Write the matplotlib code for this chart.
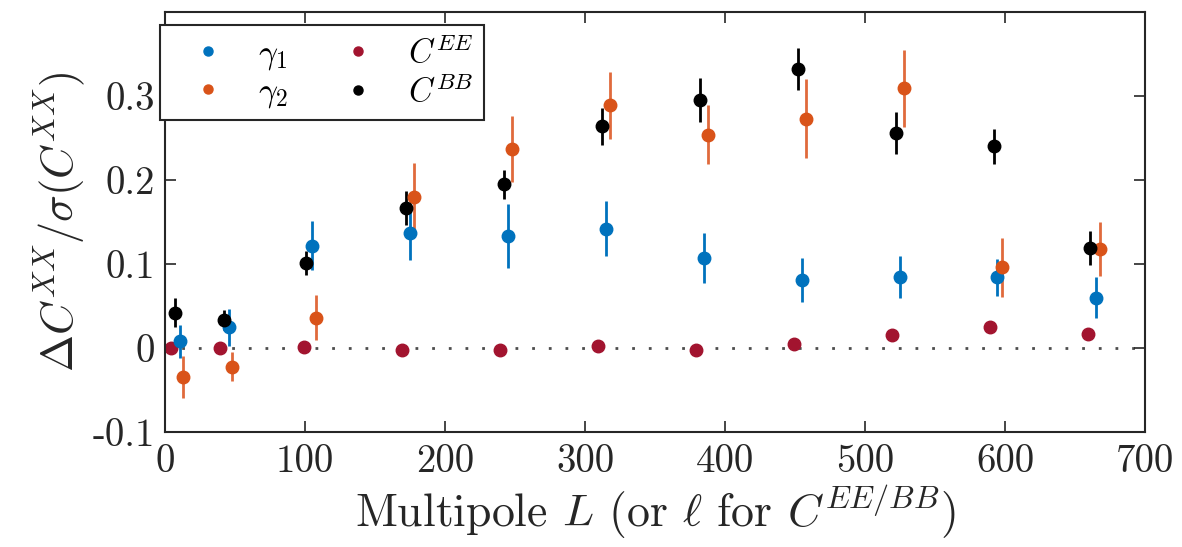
import matplotlib
matplotlib.use("Agg")
import matplotlib.pyplot as plt
from matplotlib.lines import Line2D
import numpy as np

plt.rcParams['font.family'] = ['cmr10', 'DejaVu Serif']
plt.rcParams['mathtext.fontset'] = 'cm'
plt.rcParams['axes.unicode_minus'] = False

# multipole positions (slightly offset per series)
L_ee = [4, 39, 99, 169, 239, 309, 379, 449, 519, 589, 659]
L_bb = [7, 42, 101, 172, 242, 312, 382, 452, 522, 592, 661]
L_g1 = [11, 46, 105, 175, 245, 315, 385, 455, 525, 594, 665]
L_g2 = [13, 48, 108, 178, 248, 318, 388, 458, 528, 598, 668]

# values and 1-sigma errors
g1 = [0.008, 0.025, 0.122, 0.137, 0.133, 0.142, 0.107, 0.081, 0.085, 0.084, 0.060]
g1_err = [0.02, 0.022, 0.029, 0.032, 0.038, 0.033, 0.030, 0.026, 0.025, 0.022, 0.024]
g2 = [-0.035, -0.022, 0.036, 0.180, 0.237, 0.289, 0.254, 0.273, 0.309, 0.096, 0.118]
g2_err = [0.025, 0.017, 0.027, 0.040, 0.039, 0.040, 0.035, 0.047, 0.046, 0.035, 0.032]
cee = [0.0, 0.0, 0.001, -0.002, -0.002, 0.002, -0.002, 0.005, 0.015, 0.025, 0.017]
cbb = [0.042, 0.033, 0.101, 0.167, 0.195, 0.264, 0.295, 0.332, 0.256, 0.240, 0.119]
cbb_err = [0.017, 0.012, 0.014, 0.020, 0.017, 0.022, 0.026, 0.025, 0.025, 0.021, 0.020]

legend_labels = [r'$\gamma_1$', r'$\gamma_2$', r'$C^{EE}$', r'$C^{BB}$']

blue = '#0072BD'
orange = '#D95319'
red = '#A2142F'


def main():
    fig = plt.figure(figsize=(11.82, 5.47), dpi=100)
    ax = fig.add_axes([0.1396, 0.2102, 0.8291, 0.7678])

    ax.axhline(0, color='0.3', linestyle=(0, (1, 5)), linewidth=2.0, zorder=0)

    ms = 9
    ax.errorbar(L_g1, g1, yerr=g1_err, fmt='o', color=blue, ms=ms, elinewidth=2,
                capsize=0)
    ax.errorbar(L_g2, g2, yerr=g2_err, fmt='o', color=orange, ms=ms, elinewidth=2,
                capsize=0, ecolor='#E06A3C')
    ax.plot(L_ee, cee, 'o', color=red, ms=ms)
    ax.errorbar(L_bb, cbb, yerr=cbb_err, fmt='o', color='black', ms=ms, elinewidth=2,
                capsize=0)

    ax.set_xlim(0, 700)
    ax.set_ylim(-0.1, 0.4)
    ax.set_xticks([0, 100, 200, 300, 400, 500, 600, 700])
    ax.set_xticklabels(['0', '100', '200', '300', '400', '500', '600', '700'])
    ax.set_yticks([-0.1, 0, 0.1, 0.2, 0.3])
    ax.set_yticklabels(['-0.1', '0', '0.1', '0.2', '0.3'])
    ax.tick_params(direction='in', length=8, width=1.2, top=True, right=True,
                   labelsize=28, colors='0.15', pad=7)
    ax.tick_params(axis='x', pad=9)
    for s in ax.spines.values():
        s.set_linewidth(1.5)
        s.set_color('0.15')

    ax.set_xlabel(r'Multipole $L$ (or $\ell$ for $C^{EE/BB}$)', fontsize=33, color='0.15',
                  labelpad=2)
    ax.set_ylabel(r'$\Delta C^{XX}/\sigma(C^{XX})$', fontsize=32, color='0.15', labelpad=4)

    colors = [blue, orange, red, 'black']
    handles = [Line2D([], [], marker='o', ls='none', color=c, ms=6.5) for c in colors]
    leg = ax.legend(handles, legend_labels, ncol=2, loc='upper left',
                    bbox_to_anchor=(-0.005, 0.969), borderaxespad=0, fontsize=24,
                    frameon=True, fancybox=False, edgecolor='0.15', framealpha=1,
                    handletextpad=0.35, columnspacing=0.95, borderpad=0.3,
                    labelspacing=0.15, handlelength=2.3)
    leg.get_frame().set_linewidth(1.5)

    fig.savefig('out.png', dpi=100)


if __name__ == "__main__":
    main()
